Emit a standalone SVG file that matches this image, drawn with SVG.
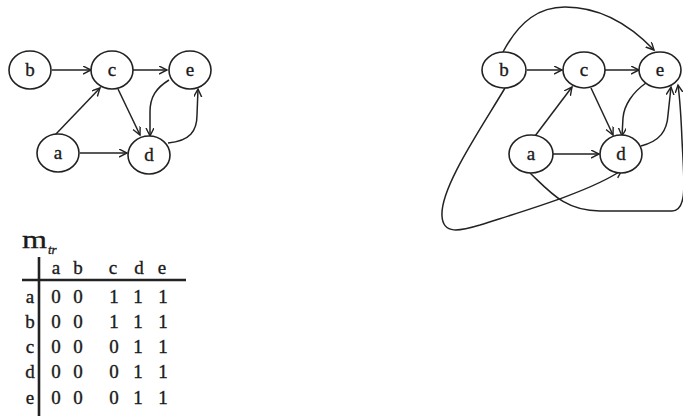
<svg xmlns="http://www.w3.org/2000/svg" width="683" height="417" viewBox="0 0 683 417">
<style>
.n{fill:#fff;stroke:#222;stroke-width:1.6}
.t{font-family:"Liberation Serif",serif;font-size:19px;fill:#1a1a1a;stroke:#1a1a1a;stroke-width:0.35;text-anchor:middle}
.e{fill:none;stroke:#222;stroke-width:1.5;marker-end:url(#ar)}
.g{stroke:#222;stroke-width:2.6}
</style>
<defs>
<marker id="ar" markerWidth="10" markerHeight="10" refX="8" refY="4" orient="auto" markerUnits="userSpaceOnUse">
<path d="M0,0 L8,4 L0,8" fill="none" stroke="#222" stroke-width="1.4"/>
</marker>
</defs>
<g id="connectors">
<path class="e" d="M52,70 L91,70"/>
<path class="e" d="M132,70 L167,70"/>
<path class="e" d="M55,135 L100,88"/>
<path class="e" d="M80,153 L127,153"/>
<path class="e" d="M118,89 L140,135"/>
<path class="e" d="M169,80 C156,88 150,97 150,112 L150,136"/>
<path class="e" d="M168,143 C190,141 197,131 197,115 L198,89"/>
<path class="e" d="M527,70 L562,70"/>
<path class="e" d="M605,70 L639,70"/>
<path class="e" d="M535,136 L572,87"/>
<path class="e" d="M591,88 L613,135"/>
<path class="e" d="M553,154 L599,154"/>
<path class="e" d="M646,83 C633,92 624,105 623,118 L622,136"/>
<path class="e" d="M641,146 C660,141 667,131 668,115 L671,87"/>
<path class="e" d="M503,52 C520,20 540,7 565,7 C600,7 630,25 654,50"/>
<path class="e" d="M505,88 C480,130 440,188 442,216 C443,235 460,231 480,225 C520,212 590,192 622,170"/>
<path class="e" d="M530,173 C550,192 565,211 600,211 L672,211 C688,211 684,180 682,140 C681,115 680,100 678,85"/>
</g>
<g id="L-b"><ellipse class="n" cx="30" cy="70" rx="21" ry="19"/><text class="t" x="30" y="76">b</text></g>
<g id="L-c"><ellipse class="n" cx="112" cy="70" rx="21" ry="19"/><text class="t" x="112" y="76">c</text></g>
<g id="L-e"><ellipse class="n" cx="190" cy="70" rx="21" ry="19"/><text class="t" x="190" y="76">e</text></g>
<g id="L-a"><ellipse class="n" cx="58" cy="153" rx="21" ry="19"/><text class="t" x="58" y="159">a</text></g>
<g id="L-d"><ellipse class="n" cx="149" cy="155" rx="21" ry="19"/><text class="t" x="149" y="161">d</text></g>
<g id="R-b"><ellipse class="n" cx="504" cy="70" rx="22" ry="18"/><text class="t" x="504" y="76">b</text></g>
<g id="R-c"><ellipse class="n" cx="584" cy="70" rx="21" ry="18"/><text class="t" x="584" y="76">c</text></g>
<g id="R-e"><ellipse class="n" cx="660" cy="70" rx="21" ry="18"/><text class="t" x="660" y="76">e</text></g>
<g id="R-a"><ellipse class="n" cx="531" cy="154" rx="22" ry="19"/><text class="t" x="531" y="160">a</text></g>
<g id="R-d"><ellipse class="n" cx="621" cy="154" rx="21" ry="19"/><text class="t" x="621" y="160">d</text></g>
<g id="table">
<text class="t" x="22" y="248" textLength="25" lengthAdjust="spacingAndGlyphs" style="font-size:26px;text-anchor:start">m</text>
<text class="t" x="48" y="254" style="font-size:13px;font-style:italic;text-anchor:start">tr</text>
<line class="g" x1="39" y1="257" x2="39" y2="416"/>
<line class="g" x1="22" y1="280" x2="186" y2="280"/>
<g class="t">
<text x="56" y="274">a</text><text x="78" y="274">b</text><text x="113" y="274">c</text><text x="139" y="274">d</text><text x="162" y="274">e</text>
<text x="30" y="303">a</text><text x="56" y="303">0</text><text x="78" y="303">0</text><text x="114" y="303">1</text><text x="138" y="303">1</text><text x="163" y="303">1</text>
<text x="30" y="328">b</text><text x="56" y="328">0</text><text x="78" y="328">0</text><text x="114" y="328">1</text><text x="138" y="328">1</text><text x="163" y="328">1</text>
<text x="30" y="353">c</text><text x="56" y="353">0</text><text x="78" y="353">0</text><text x="114" y="353">0</text><text x="138" y="353">1</text><text x="163" y="353">1</text>
<text x="30" y="378">d</text><text x="56" y="378">0</text><text x="78" y="378">0</text><text x="114" y="378">0</text><text x="138" y="378">1</text><text x="163" y="378">1</text>
<text x="30" y="404">e</text><text x="56" y="404">0</text><text x="78" y="404">0</text><text x="114" y="404">0</text><text x="138" y="404">1</text><text x="163" y="404">1</text>
</g>
</g>
</svg>
